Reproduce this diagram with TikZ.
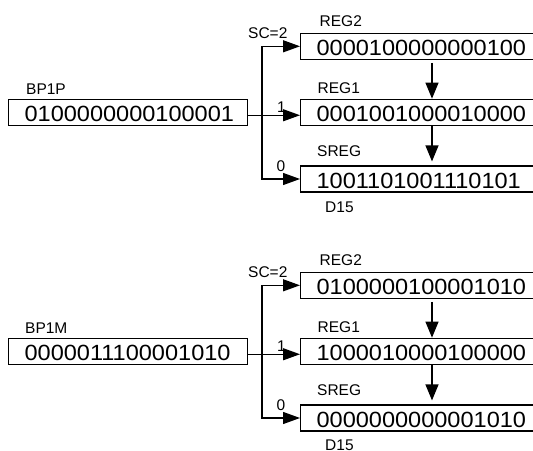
\documentclass[tikz,border=0pt]{standalone}
\usepackage{fontspec}
\setmainfont{Liberation Sans}
\newfontfamily\digitfont[FakeStretch=1.07]{Liberation Sans}
\usetikzlibrary{arrows.meta}
\newcommand\bits[1]{\makebox[207pt][l]{#1}}
\begin{document}
\begin{tikzpicture}[x=1pt,y=-1pt,
  reg/.style={draw, line width=1.2pt, inner xsep=16pt, inner ysep=0pt,
    text height=22.5pt, text depth=3.5pt, anchor=west,
    font=\digitfont\fontsize{22}{22}\selectfont},
  lbl/.style={anchor=base west, inner sep=0pt, font=\fontsize{15.5}{15.5}\selectfont},
  conn/.style={line width=1.2pt, -{Triangle[length=17pt,width=12pt]}},
  vconn/.style={line width=1.2pt, -{Triangle[length=16pt,width=13pt]}},
  ]
\fill[white] (0,0) rectangle (533,450);
\useasboundingbox (0,0) rectangle (533,450);
\clip (0,0) rectangle (533,450);

% ---------- top ----------
\node[reg] (bp1p)  at (8,112.25)  {\bits{0100000000100001}};
\node[reg] (reg2a) at (300,46.3)  {\bits{0000100000000100}};
\node[reg] (reg1a) at (300,112.25){\bits{0001001000010000}};
\node[reg] (srega) at (300,179)   {\bits{1001101001110101}};

\node[lbl] (lbp1p) at (26,94)   {BP1P};
\node[lbl] (lr2a)  at (319.5,26) {REG2};
\node[lbl] (lr1a)  at (317.5,93) {REG1};
\node[lbl] (lsa)   at (317,156)  {SREG};
\node[lbl] (ld15a) at (325,212)  {D15};
\node[lbl] (lsca)  at (248,38)   {SC=2};
\node[lbl] (l1a)   at (277,112){1};
\node[lbl] (l0a)   at (276.5,171){0};

\coordinate (ja) at (262,115.25);
\draw[conn] ([yshift=-3pt]bp1p.east) -- ([yshift=-3pt]reg1a.west);
\draw[conn] (ja) |- (reg2a.west);
\draw[conn] (ja) |- (srega.west);
\draw[vconn] ([xshift=132pt,yshift=-3pt]reg2a.south west) -- ([xshift=132pt]reg1a.north west);
\draw[vconn] ([xshift=132pt]reg1a.south west) -- ([xshift=132pt,yshift=4pt]srega.north west);

% ---------- bottom ----------
\node[reg] (bp1m)  at (8,351.25)  {\bits{0000011100001010}};
\node[reg] (reg2b) at (300,285.3) {\bits{0100000100001010}};
\node[reg] (reg1b) at (300,351.25){\bits{1000010000100000}};
\node[reg] (sregb) at (300,418)   {\bits{0000000000001010}};

\node[lbl] (lbp1m) at (25,333)   {BP1M};
\node[lbl] (lr2b)  at (319.5,265) {REG2};
\node[lbl] (lr1b)  at (317.5,332) {REG1};
\node[lbl] (lsb)   at (317,395)  {SREG};
\node[lbl] (ld15b) at (325,450.5)  {D15};
\node[lbl] (lscb)  at (248,277)  {SC=2};
\node[lbl] (l1b)   at (277,351){1};
\node[lbl] (l0b)   at (276.5,410){0};

\coordinate (jb) at (262,354.25);
\draw[conn] ([yshift=-3pt]bp1m.east) -- ([yshift=-3pt]reg1b.west);
\draw[conn] (jb) |- (reg2b.west);
\draw[conn] (jb) |- (sregb.west);
\draw[vconn] ([xshift=132pt,yshift=-3pt]reg2b.south west) -- ([xshift=132pt]reg1b.north west);
\draw[vconn] ([xshift=132pt]reg1b.south west) -- ([xshift=132pt,yshift=4pt]sregb.north west);
\end{tikzpicture}
\end{document}
